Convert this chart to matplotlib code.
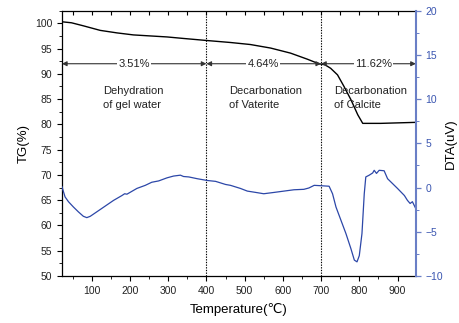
import matplotlib
matplotlib.use("Agg")
import matplotlib.pyplot as plt
from matplotlib.ticker import MultipleLocator

plt.rcParams['font.family'] = ['Liberation Sans', 'DejaVu Sans']

# TG curve (left axis, %)
tg_x = [22, 47, 78, 122, 166, 209, 253, 297, 340, 400, 463, 515, 568, 620, 664,
        694, 710, 725, 743, 760, 778, 796, 809, 856, 948]
tg_y = [100.3, 100.1, 99.5, 98.6, 98.1, 97.7, 97.5, 97.3, 97.0, 96.6, 96.2, 95.8,
        95.1, 94.1, 92.9, 92.0, 91.8, 91.1, 89.8, 87.5, 84.9, 81.9, 80.2, 80.2, 80.4]

# DTA curve (right axis, uV)
dta_x = [22, 30, 39, 52, 65, 78, 87, 96, 113, 135, 157, 179, 186, 192, 200, 218,
         240, 257, 275, 297, 314, 332, 340, 354, 376, 402, 424, 450, 463, 489, 507,
         529, 550, 577, 603, 629, 655, 668, 682, 703, 721, 730, 739, 752, 765, 778,
         787, 794, 800, 807, 813, 817, 826, 835, 839, 845, 852, 865, 874, 887, 900,
         909, 918, 926, 933, 939, 948]
dta_y = [0.1, -1.05, -1.6, -2.2, -2.75, -3.25, -3.4, -3.25, -2.75, -2.1, -1.45,
         -0.9, -0.7, -0.75, -0.55, -0.1, 0.25, 0.6, 0.75, 1.1, 1.3, 1.4, 1.25, 1.2,
         1.0, 0.8, 0.7, 0.35, 0.25, -0.1, -0.4, -0.55, -0.7, -0.55, -0.4, -0.25,
         -0.2, -0.05, 0.25, 0.2, 0.15, -0.7, -2.2, -3.7, -5.2, -6.9, -8.2, -8.4,
         -7.7, -5.2, -0.7, 1.2, 1.4, 1.65, 1.95, 1.6, 1.95, 1.9, 1.0, 0.45, -0.1,
         -0.5, -0.9, -1.45, -1.8, -1.6, -2.4]

stage_bounds = [22, 400, 700, 948]
stage_pct = ["3.51%", "4.64%", "11.62%"]
stage_names = ["Dehydration\nof gel water", "Decarbonation\nof Vaterite",
               "Decarbonation\nof Calcite"]
stage_text_x = [130, 460, 733]
pct_x = [211, 548, 838]

blue = '#2c47a8'
axblue = '#6a7fc6'

fig = plt.figure(figsize=(4.59, 3.23), dpi=100)
ax = fig.add_axes([0.135, 0.1455, 0.771, 0.8215])
ax.plot(tg_x, tg_y, color='black', lw=1.0)
ax.set_xlim(22, 948)
ax.set_ylim(50, 102.5)
ax.xaxis.set_major_locator(MultipleLocator(100))
ax.xaxis.set_minor_locator(MultipleLocator(50))
ax.yaxis.set_major_locator(MultipleLocator(5))
ax.yaxis.set_minor_locator(MultipleLocator(2.5))
ax.tick_params(axis='both', which='major', labelsize=7.5, length=3.5, width=0.8,
               direction='out', colors='black', labelcolor='#222222')
ax.tick_params(axis='both', which='minor', length=2, width=0.6, direction='out')
ax.spines['right'].set_visible(False)
for s in ['left', 'bottom', 'top']:
    ax.spines[s].set_linewidth(0.9)
ax.set_xlabel('Temperature(℃)', fontsize=9.5, labelpad=5)
ax.set_ylabel('TG(%)', fontsize=9.5, labelpad=4)

# top ticks inward
secx = ax.secondary_xaxis('top')
secx.xaxis.set_major_locator(MultipleLocator(50))
secx.tick_params(axis='x', which='major', direction='in', length=3, width=0.8, labeltop=False)
secx.tick_params(axis='x', which='minor', length=0)
secx.spines['top'].set_visible(False)
ax.tick_params(axis='x', which='both', top=False)

for xv in stage_bounds[1:3]:
    ax.axvline(xv, color='black', lw=0.8, ls=(0, (1.2, 1.2)))

arrow_y = 92
for i in range(3):
    ax.annotate('', xy=(stage_bounds[i], arrow_y), xytext=(stage_bounds[i + 1], arrow_y),
                arrowprops=dict(arrowstyle='<|-|>', color='#333333', lw=0.8,
                                mutation_scale=7, shrinkA=0, shrinkB=0))
    ax.text(pct_x[i], arrow_y, stage_pct[i], ha='center', va='center', fontsize=8,
            color='#222222', bbox=dict(facecolor='white', edgecolor='none', pad=0.8))
    ax.text(stage_text_x[i], 87.5, stage_names[i], ha='left', va='top', fontsize=8,
            color='#222222', linespacing=1.5)

ax2 = ax.twinx()
ax2.plot(dta_x, dta_y, color=blue, lw=0.9)
ax2.set_ylim(-10, 20)
ax2.yaxis.set_major_locator(MultipleLocator(5))
ax2.yaxis.set_minor_locator(MultipleLocator(2.5))
ax2.tick_params(axis='y', which='major', labelsize=7.5, length=3.5, width=0.9,
                colors=axblue, labelcolor='#3a55b0')
ax2.tick_params(axis='y', which='minor', length=2, width=0.7, colors=axblue)
for s in ['left', 'bottom', 'top']:
    ax2.spines[s].set_visible(False)
ax2.spines['right'].set_color(axblue)
ax2.spines['right'].set_linewidth(1.5)
ax2.set_ylabel('DTA(uV)', fontsize=9.5, labelpad=1)

fig.savefig('out.png', dpi=100)
